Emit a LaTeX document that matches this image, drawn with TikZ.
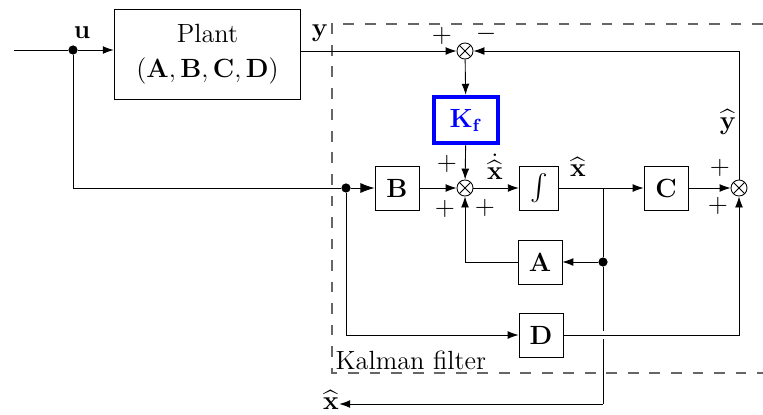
\documentclass[tikz,border=0pt]{standalone}
\usepackage{amsmath}
\usetikzlibrary{positioning,arrows.meta,calc}
\begin{document}
\begin{tikzpicture}[
  x=0.016cm,y=-0.016cm,
  font=\large,
  blk/.style={rectangle,draw,minimum width=20pt,minimum height=20pt,inner sep=2pt},
  sumj/.style={circle,draw,minimum size=7.3pt,inner sep=0pt,
    path picture={\draw (path picture bounding box.north west) -- (path picture bounding box.south east)
                        (path picture bounding box.north east) -- (path picture bounding box.south west);}},
  gain/.style={blk,draw=blue,line width=2pt,text=blue,minimum width=29pt,minimum height=21pt},
  arr/.style={-{Latex[length=5pt,width=3.6pt]}},
  bigarr/.style={-{Latex[length=6.5pt,width=4.6pt]}},
  junc/.style={circle,fill,inner sep=0pt,minimum size=4.2pt},
  sgn/.style={inner sep=0pt},
  kfframe/.style={dash pattern=on 4.9pt off 4.9pt,line width=0.6pt,black!60},
]
\useasboundingbox (0,0) rectangle (763,414);

% Plant and input
\coordinate (uin) at (14,50);
\node[junc] (uj) at (73,50) {};
\node[blk,minimum width=85pt,minimum height=41pt,align=center] (plant) at (207.5,54)
  {Plant\\[2pt]$(\mathbf{A},\mathbf{B},\mathbf{C},\mathbf{D})$};
\node[sgn] (ulbl) at (82,33) {$\mathbf{u}$};
\node[sgn] (ylbl) at (320,33) {$\mathbf{y}$};

% Kalman filter: innovation path
\node[sumj] (s1) at (465,51) {};
\node[gain] (kf) at (466,120) {$\mathbf{K_f}$};
\node[sumj] (s2) at (465,188) {};

% Middle row: state estimate
\node[junc] (bj)   at (346,188) {};
\node[blk]  (bblk) at (397,188) {$\mathbf{B}$};
\node[blk,minimum width=18pt] (intg) at (539,188) {$\int$};
\coordinate (br) at (603,188);
\node[blk]  (cblk) at (666,188) {$\mathbf{C}$};
\node[sumj] (s3) at (739,188) {};

% Lower rows
\node[blk]  (ablk) at (540,262) {$\mathbf{A}$};
\node[junc] (aj)   at (603,262) {};
\node[blk]  (dblk) at (541,335) {$\mathbf{D}$};
\coordinate (xout) at (603,404);
\node[sgn] (xlbl) at (331,400) {$\widehat{\mathbf{x}}$};

% Signs and signal labels
\node[sgn] at (442,36) {$+$};
\node[sgn] at (486,34) {$-$};
\node[sgn] at (447,164) {$+$};
\node[sgn] at (445,209) {$+$};
\node[sgn] at (485,208) {$+$};
\node[sgn] at (720,168) {$+$};
\node[sgn] at (718,206) {$+$};
\node[sgn] at (495,167) {$\dot{\widehat{\mathbf{x}}}$};
\node[sgn] at (578,167) {$\widehat{\mathbf{x}}$};
\node[sgn] at (728,122) {$\widehat{\mathbf{y}}$};

% Filter frame
\coordinate (kfne) at (763,24);
\coordinate (kfnw) at (332,24);
\coordinate (kfsw) at (332,373);
\coordinate (kfse) at (763,373);
\draw[kfframe] (kfne) -- (kfnw) -- (kfsw) -- (kfse);
\node[anchor=base west,inner sep=1pt] (kflbl) at (333,369) {Kalman filter};

% Plant connections
\draw (uin) -- (uj);
\draw[arr] (uj) -- (uj -| plant.west);
\draw[arr] (plant.east |- s1) -- (s1);
\draw (uj) |- (bj);

% Innovation and correction
\draw[arr] (s1) -- (kf);
\draw[arr] (kf) -- (s2);
\draw[arr] (s3) |- (s1);

% State loop
\draw[bigarr] (bj) -- (bblk);
\draw[arr] (bblk) -- (s2);
\draw[arr] (s2) -- (intg);
\draw[arr] (intg) -- (cblk);
\draw[arr] (cblk) -- (s3);
\draw[arr] (aj) -- (ablk);
\draw[arr] (ablk) -| (s2);
\draw[arr] (bj) |- (dblk);
\draw[arr] (dblk) -| (s3);

% Estimate output, with a gap where it crosses the D line
\draw (br) -- (aj) -- ($(aj |- dblk)+(0,-4)$);
\draw ($(aj |- dblk)+(0,4)$) -- (xout);
\draw[arr] (xout) -- (xout -| xlbl.east);
\end{tikzpicture}
\end{document}
